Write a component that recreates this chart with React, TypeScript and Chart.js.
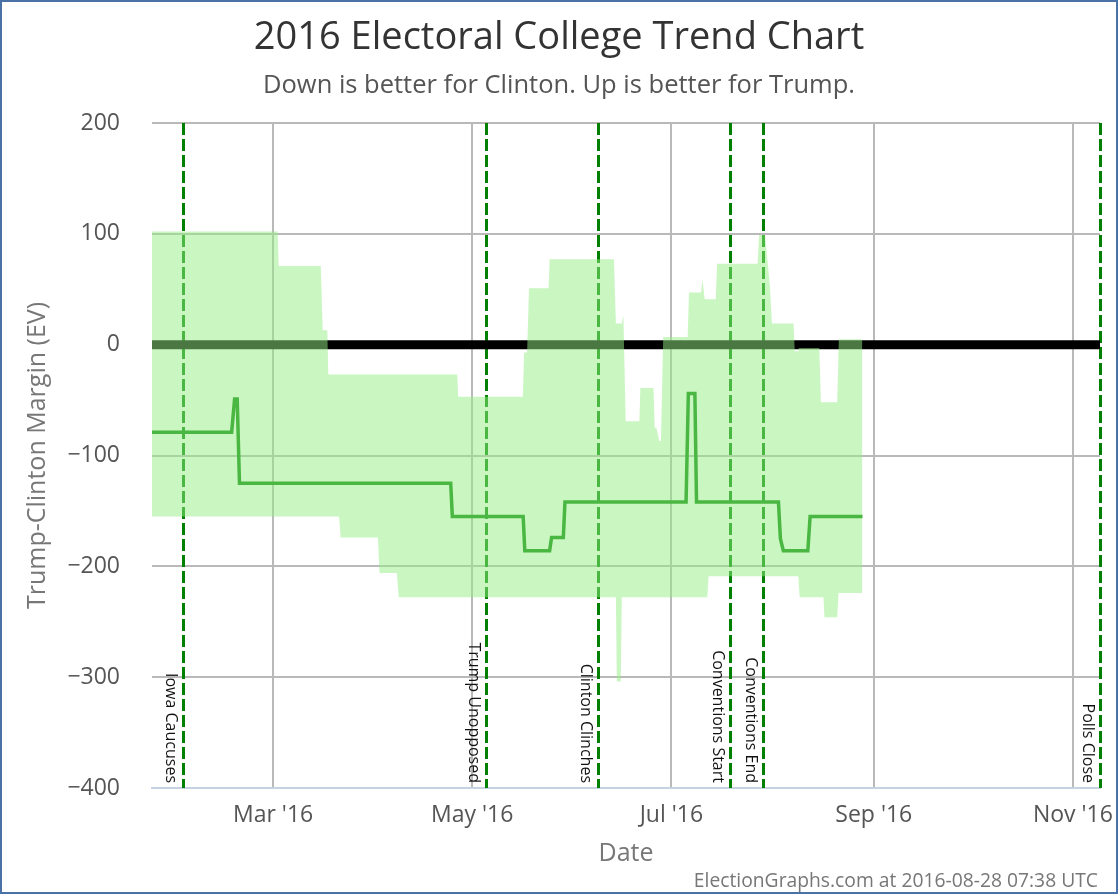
import React, { useEffect, useRef } from "react";
import { Chart, registerables } from "chart.js";

Chart.register(...registerables);

const FONT = '"Open Sans", "DejaVu Sans", sans-serif';

const TITLE = "2016 Electoral College Trend Chart";
const SUBTITLE = "Down is better for Clinton. Up is better for Trump.";
const Y_TITLE = "Trump-Clinton Margin (EV)";
const X_TITLE = "Date";
const FOOTER = "ElectionGraphs.com at 2016-08-28 07:38 UTC";

// x values are days since 2016-01-01 (day 0 = Jan 1)
const X_MIN = 22.9;
const X_MAX = 313.3;

const tickDays = [60, 121, 182, 244, 305];
const tickLabels = ["Mar '16", "May '16", "Jul '16", "Sep '16", "Nov '16"];

const Y_MIN = -400;
const Y_MAX = 200;
const Y_STEP = 100;

// Central estimate
const centerDays = [22.9, 47.3, 48.2, 49.0, 49.7, 114.4, 114.9, 136.6, 137.1, 144.7, 145.3, 148.9, 149.4, 186.5, 187.2, 189.2, 189.7, 214.8, 215.4, 216.3, 223.8, 224.5, 240.5];
const centerVals = [-79, -79, -49, -49, -125, -125, -155, -155, -186, -186, -174, -174, -142, -142, -44, -44, -142, -142, -175, -186, -186, -155, -155];

// Upper bound of the range
const upperDays = [22.9, 61.4, 61.7, 74.6, 75.2, 76.6, 76.9, 116.4, 116.7, 136.5, 136.9, 137.8, 138.4, 144.4, 144.7, 164.4, 165.0, 166.8, 167.3, 168.0, 172.2, 172.5, 176.5, 176.9, 177.4, 178.3, 178.8, 179.5, 187.0, 187.4, 191.1, 191.5, 192.2, 195.6, 196.0, 208.4, 208.9, 210.7, 212.2, 212.8, 219.4, 219.8, 220.8, 221.0, 227.3, 227.8, 232.8, 233.3, 240.5];
const upperVals = [102, 102, 71, 71, 13, 13, -27, -27, -47, -47, -7, -7, 51, 51, 77, 77, 19, 19, 26, -69, -69, -39, -39, -75, -75, -87, -87, 7, 7, 47, 47, 59, 41, 41, 73, 73, 99, 99, 52, 19, 19, -6, -6, -3, -3, -52, -52, 5, 5];

// Lower bound of the range
const lowerDays = [22.9, 80.2, 80.7, 92.1, 92.6, 97.9, 98.5, 165.0, 165.3, 166.5, 166.8, 193.0, 193.4, 220.9, 221.3, 228.6, 228.9, 232.8, 233.2, 240.5];
const lowerVals = [-155, -155, -174, -174, -206, -206, -228, -228, -304, -304, -228, -228, -209, -209, -228, -228, -246, -246, -224, -224];

// Zero reference line
const zeroDays = [X_MIN, X_MAX];
const zeroVals = [0, 0];

// Events
const eventDays = [32.5, 125.1, 159.4, 200.0, 210.2, 313.3];
const eventLabels = ["Iowa Caucuses", "Trump Unopposed", "Clinton Clinches", "Conventions Start", "Conventions End", "Polls Close"];

const toPoints = (xs: number[], ys: number[]) => xs.map((x, i) => ({ x, y: ys[i] }));

const fmtY = (v: number) => (v < 0 ? "\u2212" + Math.abs(v) : String(v));

const overlayPlugin = {
  id: "overlay",
  beforeDatasetsDraw(chart: any) {
    const { ctx, chartArea, scales } = chart;
    ctx.save();
    ctx.strokeStyle = "#008000";
    ctx.lineWidth = 3;
    ctx.setLineDash([12, 4]);
    eventDays.forEach((d) => {
      const x = Math.round(scales.x.getPixelForValue(d)) + 0.5;
      ctx.beginPath();
      ctx.moveTo(x, chartArea.top);
      ctx.lineTo(x, chartArea.bottom);
      ctx.stroke();
    });
    ctx.restore();
  },
  afterDraw(chart: any) {
    const { ctx, chartArea, scales, width } = chart;
    ctx.save();
    // event labels
    ctx.fillStyle = "#111";
    ctx.font = `16px ${FONT}`;
    eventDays.forEach((d, i) => {
      const x = Math.round(scales.x.getPixelForValue(d));
      ctx.save();
      ctx.translate(x - 17, chartArea.bottom - 5);
      ctx.rotate(Math.PI / 2);
      ctx.textAlign = "right";
      ctx.textBaseline = "alphabetic";
      ctx.fillText(eventLabels[i], 0, 0);
      ctx.restore();
    });
    // title + subtitle
    ctx.textAlign = "center";
    ctx.textBaseline = "alphabetic";
    ctx.fillStyle = "#333";
    ctx.font = `38px ${FONT}`;
    ctx.fillText(TITLE, width / 2, 46.5);
    ctx.fillStyle = "#555";
    ctx.font = `25.5px ${FONT}`;
    ctx.fillText(SUBTITLE, width / 2, 91.3);
    // footer
    ctx.textAlign = "right";
    ctx.fillStyle = "#777";
    ctx.font = `19.3px ${FONT}`;
    ctx.fillText(FOOTER, width - 18, 884.5);
    ctx.restore();
  },
};

export default function App() {
  const ref = useRef<HTMLCanvasElement | null>(null);

  useEffect(() => {
    if (!ref.current) return;
    const chart = new Chart(ref.current, {
      type: "line",
      data: {
        datasets: [
          {
            label: "Upper",
            data: toPoints(upperDays, upperVals),
            borderColor: "rgba(0,0,0,0)",
            borderWidth: 0,
            backgroundColor: "rgba(147,237,131,0.5)",
            fill: "+1",
            pointRadius: 0,
            tension: 0,
          },
          {
            label: "Lower",
            data: toPoints(lowerDays, lowerVals),
            borderColor: "rgba(0,0,0,0)",
            borderWidth: 0,
            backgroundColor: "rgba(0,0,0,0)",
            fill: false,
            pointRadius: 0,
            tension: 0,
          },
          {
            label: "Center",
            data: toPoints(centerDays, centerVals),
            borderColor: "#008000",
            borderWidth: 3.5,
            fill: false,
            pointRadius: 0,
            tension: 0,
          },
          {
            label: "Zero",
            data: toPoints(zeroDays, zeroVals),
            borderColor: "#000000",
            borderWidth: 9,
            fill: false,
            pointRadius: 0,
            tension: 0,
          },
        ],
      },
      options: {
        responsive: false,
        animation: false,
        events: [],
        layout: { padding: { top: 121, right: 16, left: 0, bottom: 0 } },
        plugins: {
          legend: { display: false },
          tooltip: { enabled: false },
          title: { display: false },
        },
        scales: {
          x: {
            type: "linear",
            min: X_MIN,
            max: X_MAX,
            afterBuildTicks: (s: any) => {
              s.ticks = tickDays.map((v) => ({ value: v }));
            },
            afterFit: (s: any) => {
              s.height = 104;
              s.paddingLeft = 0;
              s.paddingRight = 0;
            },
            ticks: {
              autoSkip: false,
              maxRotation: 0,
              padding: 14,
              color: "#555",
              font: { family: FONT, size: 23 },
              callback: (_v: any, i: number) => tickLabels[i],
            },
            grid: { color: "#b9b9b9", lineWidth: 2, drawTicks: false },
            border: { display: true, color: "#c4d2e2", width: 2 },
            title: {
              display: true,
              text: X_TITLE,
              color: "#777",
              font: { family: FONT, size: 25 },
              padding: { top: 0, bottom: 23 },
            },
          },
          y: {
            type: "linear",
            min: Y_MIN,
            max: Y_MAX,
            afterFit: (s: any) => {
              s.width = 150;
              s.paddingTop = 0;
              s.paddingBottom = 0;
            },
            ticks: {
              stepSize: Y_STEP,
              padding: 32,
              color: "#555",
              font: { family: FONT, size: 23 },
              callback: (v: any) => fmtY(Number(v)),
            },
            grid: { color: "#b9b9b9", lineWidth: 2, drawTicks: false },
            border: { display: false },
            title: {
              display: true,
              text: Y_TITLE,
              color: "#777",
              font: { family: FONT, size: 25 },
              padding: { top: 21, bottom: 0 },
            },
          },
        },
      },
      plugins: [overlayPlugin],
    });
    return () => chart.destroy();
  }, []);

  return (
    <div
      style={{
        position: "absolute",
        left: 0,
        top: 0,
        width: 1118,
        height: 894,
        border: "2px solid #4a72a6",
        boxSizing: "border-box",
        background: "#fff",
      }}
    >
      <canvas ref={ref} width={1114} height={890} style={{ display: "block", width: 1114, height: 890 }} />
    </div>
  );
}
